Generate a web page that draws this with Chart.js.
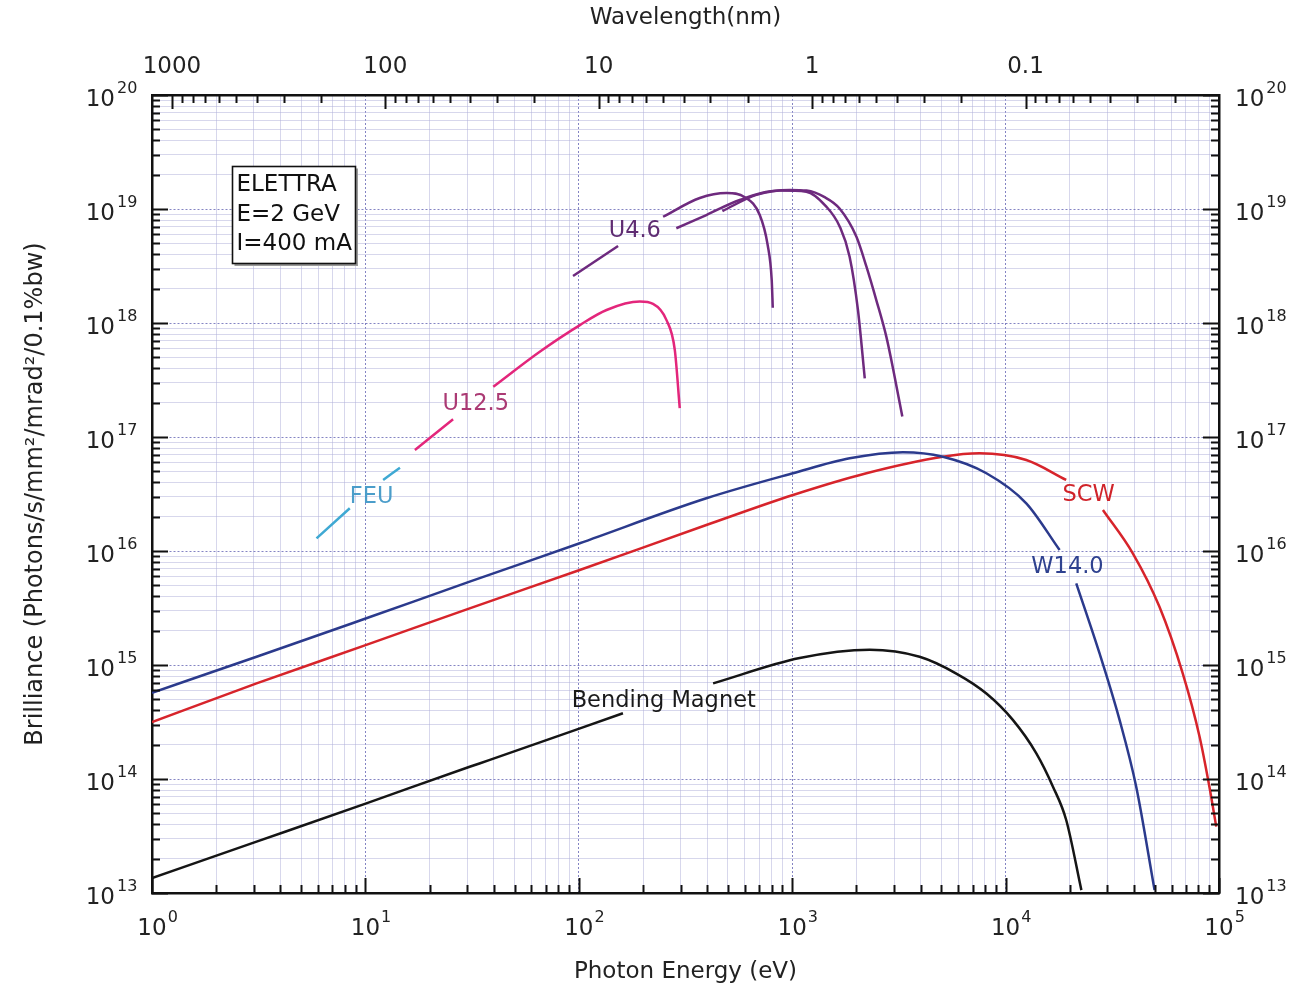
<!DOCTYPE html>
<html>
<head>
<meta charset="utf-8">
<script src="https://cdn.jsdelivr.net/npm/chart.js@4.4.1/dist/chart.umd.min.js"></script>
<style>
  html, body { margin: 0; padding: 0; background: #ffffff; }
  #c { display: block; }
</style>
</head>
<body>
<canvas id="c" width="1291" height="990"></canvas>
<script>
// ---------------- data ----------------
const energyDecades = [1, 10, 100, 1000, 10000, 100000];
const energyExponents = ['0', '1', '2', '3', '4', '5'];
const brillDecades = [1e13, 1e14, 1e15, 1e16, 1e17, 1e18, 1e19, 1e20];
const brillExponents = ['13', '14', '15', '16', '17', '18', '19', '20'];
const wavelengthDecades = [1000, 100, 10, 1, 0.1, 0.01];
const wavelengthLabels = ['1000', '100', '10', '1', '0.1', ''];
const minorSteps = [2, 3, 4, 5, 6, 7, 8, 9];
const HC_EV_NM = 1239.84;

// Bending Magnet (null = gap for the label)
const bmE = [1, 3.09, 10.1, 30.8, 38.3, 161, 260, 426, 1084, 2307, 3954, 5875, 8128, 10810, 13930, 16670, 19230, 22650];
const bmB = [1.35e13, 2.82e13, 6.12e13, 1.28e14, 1.47e14, 3.77e14, null, 6.90e14, 1.15e15, 1.36e15, 1.18e15, 8.41e14, 5.62e14, 3.30e14, 1.68e14, 8.57e13, 4.37e13, 1.06e13];

// W14.0 wiggler
const w14E = [1, 3.09, 10.1, 30.8, 101, 396, 1009, 1858, 3304, 5082, 8128, 12500, 17910, 19600, 21430, 27540, 34200, 40930, 49890];
const w14B = [5.71e14, 1.18e15, 2.57e15, 5.38e15, 1.17e16, 2.90e16, 4.81e16, 6.50e16, 7.35e16, 6.71e16, 4.81e16, 2.62e16, 1.02e16, null, 5.21e15, 1.27e15, 3.30e14, 8.55e13, 1.06e13];

// SCW superconducting wiggler
const scwE = [1, 3.09, 10.1, 30.8, 101, 396, 1009, 2228, 5082, 7551, 12500, 19230, 23500, 28580, 39450, 52600, 67610, 81100, 90160, 97050];
const scwB = [3.16e14, 6.90e14, 1.50e15, 3.14e15, 6.81e15, 1.69e16, 3.10e16, 4.81e16, 6.71e16, 7.19e16, 6.28e16, 4.20e16, null, 2.29e16, 9.55e15, 3.24e15, 8.45e14, 2.35e14, 8.55e13, 3.82e13];

// U12.5 undulator
const u125E = [17.06, 25.76, 32.9, 39.72, 65.61, 101.2, 134.9, 193.2, 222.8, 257.6, 281.8, 297.2];
const u125B = [7.69e16, 1.43e17, null, 2.76e17, 5.60e17, 9.59e17, 1.30e18, 1.54e18, 1.47e18, 1.06e18, 5.79e17, 1.79e17];

// FEU
const feuE = [5.90, 8.45, 10.1, 12.11, 14.52];
const feuB = [1.29e16, 2.37e16, null, 4.20e16, 5.38e16];

// U4.6 undulator, three harmonics
const u46aE = [93.97, 152.8, 195, 248.3, 369.0, 493.3, 599.8, 704.7, 767.4, 801.7, 810.9];
const u46aB = [2.58e18, 4.73e18, null, 8.55e18, 1.25e19, 1.38e19, 1.27e19, 8.85e18, 4.83e18, 2.38e18, 1.36e18];
const u46bE = [286.4, 396, 567.5, 873, 1164, 1445, 1671, 1858, 2033, 2188];
const u46bB = [6.78e18, 8.85e18, 1.20e19, 1.45e19, 1.42e19, 1.05e19, 7.00e18, 3.82e18, 1.30e18, 3.27e17];
const u46cE = [471, 679, 973, 1167, 1419, 1667, 2000, 2228, 2478, 2761, 3020, 3281];
const u46cB = [9.59e18, 1.33e19, 1.47e19, 1.45e19, 1.27e19, 1.01e19, 5.71e18, 3.12e18, 1.59e18, 7.59e17, 3.38e17, 1.51e17];

// in-plot curve labels (anchored in data coordinates)
const curveLabels = ['U4.6', 'U12.5', 'FEU', 'SCW', 'W14.0', 'Bending Magnet'];
const curveLabelE = [183, 32.9, 10.7, 24480, 19500, 250];
const curveLabelB = [6.41e18, 1.95e17, 2.94e16, 3.10e16, 7.16e15, 4.83e14];
const curveLabelColors = ['#5f2c72', '#ab3a74', '#4b9dca', '#d0232a', '#2e418f', '#1a1a1a'];

// info box
const infoLines = ['ELETTRA', 'E=2 GeV', 'I=400 mA'];
const infoAnchorE = 2.37;
const infoAnchorB = 2.38e19;

// ---------------- styling ----------------
const FONT = 'DejaVu Sans';
Chart.defaults.font.family = FONT;
const GRID_MINOR = 'rgba(175,175,218,0.5)';
const GRID_DEC = 'rgba(110,110,185,0.85)';
const AXIS_COLOR = '#111111';
const TICK_FONT = 23;
const EXP_FONT = 16;
const X_PAD = 22;
const YL_PAD = 37;
const YR_PAD = 16;
const Y_LABEL_SHIFT = 5;
const LINE_W = 2.5;

function decadeTicks(decades, exps) {
  const out = [];
  decades.forEach((d, i) => {
    out.push({ value: d, dec: true, lbl: '10', exp: exps[i] });
    if (i < decades.length - 1) minorSteps.forEach(m => out.push({ value: d * m, dec: false, lbl: '' }));
  });
  return out;
}
function wavelengthTicks() {
  const out = [];
  wavelengthDecades.forEach((d, i) => {
    [1].concat(minorSteps).forEach(m => {
      const e = HC_EV_NM / (d * m);
      if (e >= 1 && e <= 1e5) out.push({ value: e, dec: m === 1, lbl: m === 1 ? wavelengthLabels[i] : '' });
    });
  });
  return out.sort((a, b) => a.value - b.value);
}

function series(E, B, color, width) {
  return {
    data: E.map((e, i) => ({ x: e, y: B[i] })),
    borderColor: color,
    borderWidth: width,
    pointRadius: 0,
    fill: false,
    spanGaps: false,
    cubicInterpolationMode: 'monotone',
    xAxisID: 'x',
    yAxisID: 'y'
  };
}

const gridColor = c => (c.tick && c.tick.dec) ? GRID_DEC : GRID_MINOR;
const gridDash = c => (c.tick && c.tick.dec) ? [2, 2] : [];
const tickCb = (v, i, t) => (t[i] && t[i].lbl) ? t[i].lbl : '';

const inwardTicks = {
  id: 'inwardTicks',
  afterDatasetsDraw(chart) {
    const { ctx, chartArea: a, scales } = chart;
    ctx.save();
    ctx.strokeStyle = AXIS_COLOR;
    ctx.lineWidth = 2;
    ctx.beginPath();
    scales.x.ticks.forEach(t => {
      const p = Math.round(scales.x.getPixelForValue(t.value)) + 0.5;
      const L = t.dec ? 15 : 8;
      ctx.moveTo(p, a.bottom); ctx.lineTo(p, a.bottom - L);
    });
    scales.x2.ticks.forEach(t => {
      const p = Math.round(scales.x2.getPixelForValue(t.value)) + 0.5;
      const L = t.dec ? 14 : 8;
      ctx.moveTo(p, a.top); ctx.lineTo(p, a.top + L);
    });
    scales.y.ticks.forEach(t => {
      const p = Math.round(scales.y.getPixelForValue(t.value)) + 0.5;
      const L = t.dec ? 16 : 8;
      ctx.moveTo(a.left, p); ctx.lineTo(a.left + L, p);
    });
    scales.y2.ticks.forEach(t => {
      const p = Math.round(scales.y2.getPixelForValue(t.value)) + 0.5;
      const L = t.dec ? 16 : 8;
      ctx.moveTo(a.right, p); ctx.lineTo(a.right - L, p);
    });
    ctx.stroke();
    ctx.restore();
  }
};

// superscript exponents next to the library's "10" tick labels
const exponents = {
  id: 'exponents',
  afterDraw(chart) {
    const { ctx, chartArea: a, scales } = chart;
    ctx.save();
    ctx.font = TICK_FONT + 'px "' + FONT + '"';
    const w10 = ctx.measureText('10').width;
    ctx.font = EXP_FONT + 'px "' + FONT + '"';
    ctx.fillStyle = '#222';
    ctx.textAlign = 'left';
    ctx.textBaseline = 'middle';
    const xLabelY = a.bottom + X_PAD + TICK_FONT * 1.2 / 2;
    scales.x.ticks.forEach(t => {
      if (!t.exp) return;
      const p = scales.x.getPixelForValue(t.value);
      ctx.fillText(t.exp, p + w10 / 2 + 1, xLabelY - 11);
    });
    scales.y.ticks.forEach(t => {
      if (!t.exp) return;
      const p = scales.y.getPixelForValue(t.value) + Y_LABEL_SHIFT;
      ctx.fillText(t.exp, a.left - YL_PAD + 2, p - 11);
    });
    scales.y2.ticks.forEach(t => {
      if (!t.exp) return;
      const p = scales.y2.getPixelForValue(t.value) + Y_LABEL_SHIFT;
      ctx.fillText(t.exp, a.right + YR_PAD + w10 + 2, p - 11);
    });
    ctx.restore();
  }
};

const annotations = {
  id: 'annotations',
  afterDatasetsDraw(chart) {
    const { ctx, scales } = chart;
    ctx.save();
    ctx.font = '22.5px "' + FONT + '"';
    ctx.textAlign = 'center';
    ctx.textBaseline = 'middle';
    curveLabels.forEach((txt, i) => {
      ctx.fillStyle = curveLabelColors[i];
      ctx.fillText(txt, scales.x.getPixelForValue(curveLabelE[i]), scales.y.getPixelForValue(curveLabelB[i]));
    });
    // info box
    const bx = Math.round(scales.x.getPixelForValue(infoAnchorE)) + 0.5;
    const by = Math.round(scales.y.getPixelForValue(infoAnchorB)) + 0.5;
    const bw = 123, bh = 97;
    ctx.fillStyle = '#ffffff';
    ctx.fillRect(bx, by, bw, bh);
    ctx.strokeStyle = '#9a9a9a';
    ctx.lineWidth = 2;
    ctx.beginPath();
    ctx.moveTo(bx + 2, by + bh + 1.5); ctx.lineTo(bx + bw + 1.5, by + bh + 1.5); ctx.lineTo(bx + bw + 1.5, by + 2);
    ctx.stroke();
    ctx.strokeStyle = '#111';
    ctx.lineWidth = 1.6;
    ctx.strokeRect(bx, by, bw, bh);
    ctx.fillStyle = '#111';
    ctx.textAlign = 'left';
    ctx.font = '23px "' + FONT + '"';
    infoLines.forEach((ln, i) => ctx.fillText(ln, bx + 4, by + 19 + i * 29.5));
    ctx.restore();
  }
};

new Chart(document.getElementById('c'), {
  type: 'line',
  data: {
    datasets: [
      series(bmE, bmB, '#151515', LINE_W),
      series(w14E, w14B, '#2b3a8c', LINE_W),
      series(scwE, scwB, '#d7242b', LINE_W),
      series(feuE, feuB, '#3fa9d3', LINE_W),
      series(u125E, u125B, '#e3267b', LINE_W),
      series(u46aE, u46aB, '#6e2a7e', LINE_W),
      series(u46bE, u46bB, '#6e2a7e', LINE_W),
      series(u46cE, u46cB, '#6e2a7e', LINE_W)
    ]
  },
  options: {
    responsive: false,
    animation: false,
    devicePixelRatio: 1,
    layout: { padding: 0 },
    plugins: { legend: { display: false }, tooltip: { enabled: false } },
    scales: {
      x: {
        type: 'logarithmic', position: 'bottom', min: 1, max: 1e5,
        afterBuildTicks: s => { s.ticks = decadeTicks(energyDecades, energyExponents); },
        afterFit: s => { s.height = 97; },
        ticks: { autoSkip: false, maxRotation: 0, minRotation: 0, padding: X_PAD, color: '#222', font: { size: TICK_FONT }, callback: tickCb },
        grid: { drawTicks: false, color: gridColor, lineWidth: 1 },
        border: { display: true, color: AXIS_COLOR, width: 2.5, dash: gridDash },
        title: { display: true, text: 'Photon Energy (eV)', color: '#222', font: { size: 23 }, padding: { top: 0, bottom: 4 } }
      },
      x2: {
        type: 'logarithmic', position: 'top', min: 1, max: 1e5,
        afterBuildTicks: s => { s.ticks = wavelengthTicks(); },
        afterFit: s => { s.height = 95; },
        ticks: { autoSkip: false, maxRotation: 0, minRotation: 0, padding: 14, color: '#222', font: { size: TICK_FONT }, callback: tickCb },
        grid: { display: false, drawTicks: false },
        border: { display: true, color: AXIS_COLOR, width: 2.5 },
        title: { display: true, text: 'Wavelength(nm)', color: '#222', font: { size: 23 }, padding: { top: 4, bottom: 0 } }
      },
      y: {
        type: 'logarithmic', position: 'left', min: 1e13, max: 1e20,
        afterBuildTicks: s => { s.ticks = decadeTicks(brillDecades, brillExponents); },
        afterFit: s => { s.width = 152; },
        ticks: { autoSkip: false, padding: YL_PAD, labelOffset: Y_LABEL_SHIFT, color: '#222', font: { size: TICK_FONT }, callback: tickCb },
        grid: { drawTicks: false, color: gridColor, lineWidth: 1 },
        border: { display: true, color: AXIS_COLOR, width: 2.5, dash: gridDash },
        title: { display: true, text: 'Brilliance (Photons/s/mm²/mrad²/0.1%bw)', color: '#222', font: { size: 24 }, padding: { top: 21, bottom: 0 } }
      },
      y2: {
        type: 'logarithmic', position: 'right', min: 1e13, max: 1e20,
        afterBuildTicks: s => { s.ticks = decadeTicks(brillDecades, brillExponents); },
        afterFit: s => { s.width = 72; },
        ticks: { autoSkip: false, padding: YR_PAD, labelOffset: Y_LABEL_SHIFT, color: '#222', font: { size: TICK_FONT }, callback: tickCb },
        grid: { display: false, drawTicks: false },
        border: { display: true, color: AXIS_COLOR, width: 2.5 }
      }
    }
  },
  plugins: [inwardTicks, exponents, annotations]
});
</script>
</body>
</html>
